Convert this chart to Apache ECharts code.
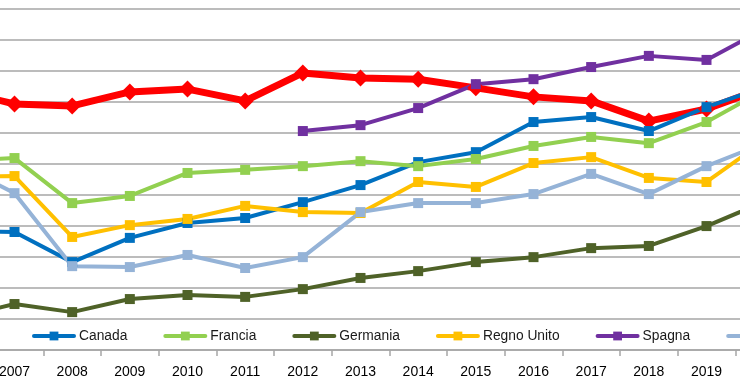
<!DOCTYPE html>
<html>
<head>
<meta charset="utf-8">
<script src="https://cdn.jsdelivr.net/npm/echarts@6/dist/echarts.min.js"></script>
<style>html,body{margin:0;padding:0;background:#fff}#c{width:740px;height:389px}</style>
</head>
<body>
<div id="c"></div>
<script>
var years = ['2006','2007','2008','2009','2010','2011','2012','2013','2014','2015','2016','2017','2018','2019','2020'];
var italia    = [8.37, 7.92, 7.86, 8.31, 8.40, 8.02, 8.92, 8.76, 8.72, 8.44, 8.15, 8.02, 7.37, 7.76, 8.44];
var canada    = [3.83, 3.80, 2.83, 3.61, 4.09, 4.25, 4.76, 5.31, 6.05, 6.37, 7.34, 7.50, 7.05, 7.82, 8.47];
var francia   = [6.09, 6.18, 4.73, 4.96, 5.70, 5.80, 5.92, 6.08, 5.92, 6.15, 6.57, 6.86, 6.66, 7.34, 8.37];
var germania  = [1.03, 1.48, 1.22, 1.64, 1.77, 1.71, 1.96, 2.32, 2.54, 2.83, 2.99, 3.28, 3.35, 3.99, 4.77];
var regnoUnito= [5.57, 5.60, 3.64, 4.02, 4.22, 4.64, 4.44, 4.41, 5.41, 5.25, 6.02, 6.21, 5.54, 5.41, 6.73];
var spagna    = [null, null, null, null, null, null, 7.05, 7.24, 7.79, 8.56, 8.72, 9.11, 9.47, 9.34, 10.33];
var statiUniti= [6.00, 5.05, 2.70, 2.67, 3.06, 2.64, 2.99, 4.44, 4.73, 4.73, 5.02, 5.67, 5.02, 5.92, 6.66];

function s(name, data, color, opt) {
  opt = opt || {};
  return {
    name: name, type: 'line', data: data,
    symbol: opt.symbol || 'rect',
    symbolSize: opt.size || 10,
    showSymbol: true,
    connectNulls: false,
    lineStyle: { color: color, width: opt.width || 4 },
    itemStyle: { color: color },
    emphasis: { disabled: true },
    animation: false
  };
}

var chart = echarts.init(document.getElementById('c'), null, { renderer: 'canvas' });
chart.setOption({
  animation: false,
  grid: { left: -72, width: 865, top: -22.7, bottom: 39, containLabel: false, outerBoundsMode: 'none' },
  xAxis: {
    type: 'category', data: years, boundaryGap: true,
    axisLine: { show: true, lineStyle: { color: '#a6a6a6', width: 1.5 } },
    axisTick: { show: true, length: 6, lineStyle: { color: '#a6a6a6', width: 1.5 } },
    axisLabel: { color: '#000', fontFamily: 'Liberation Sans', fontSize: 14, margin: 15, hideOverlap: false },
    splitLine: { show: false }
  },
  yAxis: {
    type: 'value', min: 0, max: 12, interval: 1,
    axisLine: { show: false }, axisTick: { show: false }, axisLabel: { show: false },
    splitLine: { show: true, lineStyle: { color: '#a6a6a6', width: 1.5 } }
  },
  legend: {
    show: true, orient: 'horizontal', left: 27, top: 324, width: 1400,
    itemWidth: 40, itemHeight: 11, itemGap: 36,
    lineStyle: { width: 4, cap: 'round' },
    textStyle: { color: '#1a1a1a', fontFamily: 'Liberation Sans', fontSize: 13.8 },
    data: ['Canada','Francia','Germania','Regno Unito','Spagna','Stati Uniti','Italia']
  },
  series: [
    s('Italia', italia, '#ff0000', { symbol: 'diamond', size: 17, width: 7 }),
    s('Canada', canada, '#0070c0'),
    s('Francia', francia, '#92d050'),
    s('Germania', germania, '#4f6228'),
    s('Regno Unito', regnoUnito, '#ffc000'),
    s('Spagna', spagna, '#7030a0'),
    s('Stati Uniti', statiUniti, '#95b3d7')
  ]
});
</script>
</body>
</html>
